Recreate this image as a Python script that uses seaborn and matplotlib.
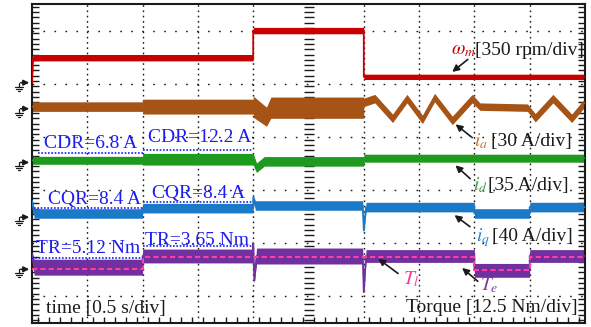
import numpy as np
import matplotlib
matplotlib.use("Agg")
import matplotlib.pyplot as plt
import pandas as pd
import seaborn as sns

# time in s (0.5 s/div), vertical position in screen divisions
# speed omega_m
wm_t = [0.0, 0.01, 2.0, 2.0, 3.0, 3.0, 5.0]
wm_c = [4.52, 4.99, 4.99, 5.50, 5.50, 4.63, 4.63]
wm_h = [0.02, 0.06, 0.06, 0.06, 0.06, 0.05, 0.05]

# phase current i_a
ia_t = [0.0, 1.0, 1.0, 2.0, 2.0, 2.12, 2.16, 3.0, 3.0, 3.10, 3.26, 3.39, 3.53, 3.64,
        3.80, 3.98, 4.05, 4.48, 4.55, 4.71, 4.88, 5.0]
ia_c = [4.07, 4.07, 4.07, 4.07, 4.07, 3.88, 4.05, 4.05, 4.15, 4.22, 3.85, 4.22, 3.83, 4.24,
        3.81, 4.22, 4.07, 4.05, 3.86, 4.22, 3.85, 4.15]
ia_h = [0.09, 0.09, 0.14, 0.14, 0.2, 0.18, 0.2, 0.2, 0.08, 0.08, 0.08, 0.08, 0.08, 0.08,
        0.08, 0.08, 0.07, 0.07, 0.08, 0.08, 0.08, 0.08]

# d-axis current
id_t = [0.0, 1.0, 1.0, 2.0, 2.0, 2.03, 2.1, 3.0, 3.0, 5.0]
id_c = [3.06, 3.06, 3.08, 3.08, 3.08, 2.92, 3.04, 3.04, 3.10, 3.10]
id_h = [0.075, 0.075, 0.11, 0.11, 0.11, 0.09, 0.09, 0.09, 0.075, 0.075]

# q-axis current
iq_t = [0.0, 0.02, 1.0, 1.0, 2.0, 2.0, 2.02, 2.99, 3.0, 3.02, 4.0, 4.0, 4.5, 4.5, 5.0]
iq_c = [2.30, 2.06, 2.06, 2.16, 2.16, 2.36, 2.21, 2.21, 1.74, 2.18, 2.18, 2.06, 2.06, 2.18, 2.18]
iq_h = [0.05, 0.09, 0.09, 0.09, 0.09, 0.05, 0.09, 0.09, 0.03, 0.09, 0.09, 0.09, 0.09, 0.09, 0.09]

# electromagnetic torque T_e
te_t = [0.0, 0.02, 1.0, 1.0, 2.0, 2.0, 2.01, 2.03, 2.99, 3.0, 3.02, 4.0, 4.0, 4.5, 4.5, 5.0]
te_c = [1.30, 1.05, 1.05, 1.26, 1.26, 1.50, 0.80, 1.26, 1.26, 0.58, 1.26, 1.26, 0.99, 0.99, 1.26, 1.26]
te_h = [0.05, 0.15, 0.15, 0.13, 0.13, 0.05, 0.05, 0.15, 0.15, 0.03, 0.12, 0.12, 0.13, 0.13, 0.12, 0.12]

# load torque T_l (dashed)
tl_t = [0.0, 1.0, 1.0, 4.0, 4.0, 4.5, 4.5, 5.0]
tl_v = [1.01, 1.01, 1.24, 1.24, 0.99, 0.99, 1.24, 1.24]

# ripple annotations (blue dotted)
ref_t0 = [0.05, 1.0, 0.02, 1.0, 0.0, 1.0]
ref_t1 = [1.0, 2.0, 1.0, 2.0, 1.0, 2.0]
ref_y = [3.19, 3.26, 2.16, 2.27, 1.22, 1.44]
ref_txt = ['CDR=6.8 A', 'CDR=12.2 A', 'CQR=8.4 A', 'CQR=8.4 A', 'TR=5.12 Nm', 'TR=3.65 Nm']
ref_tx = [0.53, 1.52, 0.57, 1.51, 0.51, 1.49]
ref_ty = [3.30, 3.40, 2.23, 2.36, 1.31, 1.46]

# ground reference levels per channel
gnd_y = [4.52, 4.03, 3.02, 1.99, 1.01]

colors = {'wm': '#c80000', 'ia': '#a65416', 'id': '#1e9a1e', 'iq': '#1a7ac8', 'te': '#7030a0'}
traces = {'wm': (wm_t, wm_c, wm_h), 'ia': (ia_t, ia_c, ia_h), 'id': (id_t, id_c, id_h),
          'iq': (iq_t, iq_c, iq_h), 'te': (te_t, te_c, te_h)}

sns.set_theme(style='white')
plt.rcParams['font.family'] = ['Liberation Serif', 'DejaVu Serif']
plt.rcParams['mathtext.fontset'] = 'stix'

fig = plt.figure(figsize=(5.91, 3.27), dpi=100)
ax = fig.add_axes([32 / 591, 4 / 327, 553 / 591, 319 / 327])
ax.set_xlim(0, 5)
ax.set_ylim(0, 6)

# dotted graticule
for gx in [0.5, 1.0, 1.5, 2.0, 3.0, 3.5, 4.0, 4.5]:
    ax.axvline(gx, color='k', lw=1.0, ls=(0, (1.2, 2.6)), zorder=1)
for gy in [0.5, 1.5, 2.5, 3.5, 4.5, 5.5]:
    ax.axhline(gy, color='k', lw=1.0, ls=(0, (1.2, 6.7)), zorder=1)
cy = np.arange(0.05, 6.0, 0.1)
ax.plot(np.full_like(cy, 2.5), cy, ls='none', marker='_', ms=7, mew=1.0, color='k', zorder=1)

# traces
rows = []
for name, (t, c, h) in traces.items():
    t = np.array(t); c = np.array(c); h = np.array(h)
    ax.fill_between(t, c - h, c + h, color=colors[name], lw=0, zorder=2)
    rows.append(pd.DataFrame({'trace': name, 't': t, 'v': c}))
df = pd.concat(rows, ignore_index=True)
sns.lineplot(data=df, x='t', y='v', hue='trace', palette=colors, estimator=None,
             sort=False, lw=1.3, legend=False, ax=ax, zorder=3)
sns.lineplot(x=tl_t, y=tl_v, estimator=None, sort=False, color='#ff3fa0', lw=1.5,
             ax=ax, zorder=4)
ax.lines[-1].set_linestyle((0, (2.5, 1.5)))

ax.hlines(ref_y, ref_t0, ref_t1, colors='#1c1cf0', lw=1.2, linestyles=(0, (1, 1)), zorder=4)
for s, x, y in zip(ref_txt, ref_tx, ref_ty):
    ax.text(x, y, s, color='#1c1cf0', fontsize=14, ha='center', va='baseline', zorder=5)

# channel labels
fs = 14
ax.text(3.79, 5.05, r'$\omega_m$', color='#c80000', fontsize=fs, va='baseline')
ax.text(4.005, 5.05, '[350 rpm/div]', color='k', fontsize=fs, va='baseline')
ax.text(4.00, 3.32, r'$i_a$', color='#c87533', fontsize=fs, va='baseline')
ax.text(4.15, 3.32, '[30 A/div]', color='k', fontsize=fs, va='baseline')
ax.text(3.99, 2.50, r'$i_d$', color='#3a9a3a', fontsize=fs, va='baseline')
ax.text(4.12, 2.50, '[35 A/div]', color='k', fontsize=fs, va='baseline')
ax.text(4.01, 1.54, r'$i_q$', color='#2a80d0', fontsize=fs, va='baseline')
ax.text(4.16, 1.54, '[40 A/div]', color='k', fontsize=fs, va='baseline')
ax.text(3.35, 0.73, r'$T_l$', color='#ff3399', fontsize=fs, va='baseline')
ax.text(4.05, 0.62, r'$T_e$', color='#7a3aa8', fontsize=fs, va='baseline')
ax.text(0.127, 0.19, 'time [0.5 s/div]', color='k', fontsize=fs, va='baseline')
ax.text(4.93, 0.21, 'Torque [12.5 Nm/div]', color='k', fontsize=fs, va='baseline', ha='right')

arrows = [((3.96, 4.99), (3.78, 4.69)), ((3.99, 3.47), (3.81, 3.77)),
          ((3.98, 2.68), (3.81, 3.00)), ((3.98, 1.78), (3.80, 2.06)),
          ((3.33, 0.90), (3.11, 1.24)), ((4.05, 0.75), (3.87, 1.07))]
for tail, head in arrows:
    ax.annotate('', xy=head, xytext=tail,
                arrowprops=dict(arrowstyle='-|>', color='k', lw=1.2, mutation_scale=10))

# ground markers left of the frame
px_x = 5 / 553
px_y = 6 / 319
for g in gnd_y:
    ax.annotate('', xy=(0, g), xytext=(-14 * px_x, g),
                arrowprops=dict(arrowstyle='-|>', color='k', lw=1.2, mutation_scale=8),
                annotation_clip=False)
    gx0 = -13 * px_x
    ax.plot([gx0, gx0], [g, g - 4 * px_y], color='k', lw=0.9, clip_on=False)
    for k, w in enumerate([4, 2.5, 1]):
        yy = g - (4 + 2 * k) * px_y
        ax.plot([gx0 - w * px_x, gx0 + w * px_x], [yy, yy], color='k', lw=0.9, clip_on=False)

# frame and ticks
ax.set_xticks(np.arange(0.05, 5.0, 0.1), minor=False)
ax.set_yticks(np.arange(0.05, 6.0, 0.1))
ax.tick_params(axis='both', direction='in', length=5, width=1.0, color='k',
               labelbottom=False, labelleft=False, left=True, right=True,
               bottom=True, top=False)
ax.tick_params(axis='x', length=4)
ax.set_xlabel('')
ax.set_ylabel('')
ax.grid(False)
for sp in ax.spines.values():
    sp.set_color('k')
    sp.set_linewidth(1.5)

fig.savefig('out.png', dpi=100)
